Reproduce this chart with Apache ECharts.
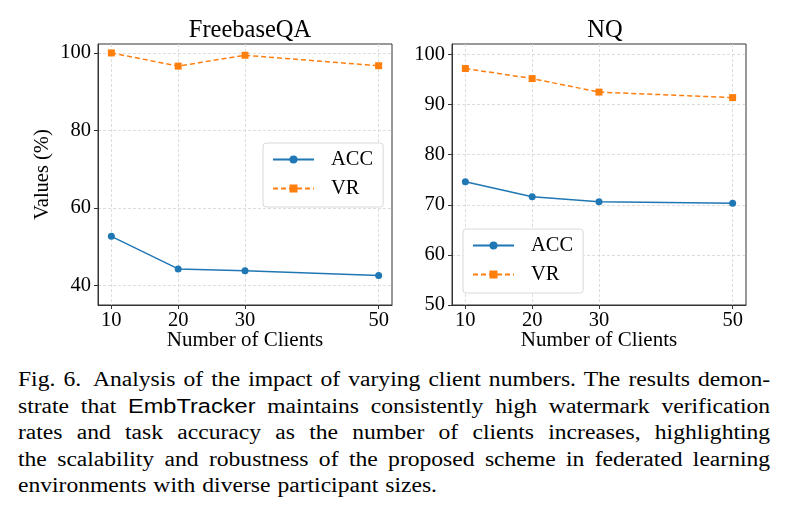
<!DOCTYPE html>
<html>
<head>
<meta charset="utf-8">
<script src="https://cdn.jsdelivr.net/npm/echarts@6/dist/echarts.min.js"></script>
<style>
  body { margin: 0; background: #fff; width: 785px; height: 514px; overflow: hidden; position: relative; }
  #chart { width: 785px; height: 360px; }
  #caption { position: absolute; left: 18px; top: 366px; width: 654px;
    transform: scaleX(1.15); transform-origin: 0 0;
    font-family: "Liberation Serif", serif; font-size: 20.5px; line-height: 26.5px; color: #000; }
  .ln { text-align: justify; text-align-last: justify; white-space: nowrap; }
  .last { text-align: left; word-spacing: 1px; }
  .sf { font-family: "Liberation Sans", sans-serif; }
</style>
</head>
<body>
<div id="chart"></div>
<div id="caption">
  <div class="ln">Fig. 6.&ensp;Analysis of the impact of varying client numbers. The results demon-</div>
  <div class="ln">strate that <span class="sf">EmbTracker</span> maintains consistently high watermark verification</div>
  <div class="ln">rates and task accuracy as the number of clients increases, highlighting</div>
  <div class="ln">the scalability and robustness of the proposed scheme in federated learning</div>
  <div class="last">environments with diverse participant sizes.</div>
</div>
<script>
// data
var clients = [10, 20, 30, 50];
var fbAcc = [52.7, 44.3, 43.8, 42.6];
var fbVr = [100, 96.6, 99.4, 96.7];
var nqAcc = [74.6, 71.6, 70.6, 70.3];
var nqVr = [97.2, 95.2, 92.5, 91.4];
var xTicks = [10, 20, 30, 50];
var fbTicks = [40, 60, 80, 100];
var nqTicks = [50, 60, 70, 80, 90, 100];

var FONT = 'Liberation Serif';
var BLUE = '#1f77b4', ORANGE = '#ff7f0e';

function pairs(vals) {
  return clients.map(function (c, i) { return [c, vals[i]]; });
}

function xAxis(idx) {
  return {
    type: 'value', gridIndex: idx, min: 8, max: 52,
    name: 'Number of Clients', nameLocation: 'middle', nameGap: 25, nameMoveOverlap: false,
    nameTextStyle: { fontFamily: FONT, fontSize: 21, color: '#000' },
    axisLine: { show: true, onZero: false, lineStyle: { color: '#333' } },
    axisTick: { show: true, length: 4, customValues: xTicks, lineStyle: { color: '#333' } },
    axisLabel: { customValues: xTicks, fontFamily: FONT, fontSize: 20.5, color: '#000', margin: 5 },
    splitLine: { show: true, lineStyle: { color: '#d4d4d4', type: [3, 2], width: 0.8 } }
  };
}

function yAxis(idx, min, max, ticks, name) {
  return {
    type: 'value', gridIndex: idx, min: min, max: max,
    name: name, nameLocation: 'middle', nameGap: 45, nameMoveOverlap: false,
    nameTextStyle: { fontFamily: FONT, fontSize: 20.5, color: '#000' },
    axisLine: { show: true, lineStyle: { color: '#333' } },
    axisTick: { show: true, length: 4, customValues: ticks, lineStyle: { color: '#333' } },
    axisLabel: { customValues: ticks, fontFamily: FONT, fontSize: 20.5, color: '#000', margin: 7 },
    splitLine: { show: true, lineStyle: { color: '#d4d4d4', type: [3, 2], width: 0.8 } }
  };
}

function accSeries(idx, vals) {
  return {
    name: 'ACC', type: 'line', xAxisIndex: idx, yAxisIndex: idx, data: pairs(vals),
    symbol: 'circle', symbolSize: 7, color: BLUE,
    lineStyle: { width: 1.5, color: BLUE }, itemStyle: { color: BLUE }, animation: false
  };
}

function vrSeries(idx, vals) {
  return {
    name: 'VR', type: 'line', xAxisIndex: idx, yAxisIndex: idx, data: pairs(vals),
    symbol: 'rect', symbolSize: 7, color: ORANGE,
    lineStyle: { width: 1.5, color: ORANGE, type: [5, 3] }, itemStyle: { color: ORANGE }, animation: false
  };
}

function legend(left, top) {
  return {
    data: ['ACC', 'VR'], orient: 'vertical', left: left, top: top,
    padding: [6, 10, 8, 9], itemGap: 8, itemWidth: 41, itemHeight: 10,
    backgroundColor: '#fff', borderColor: '#d8d8d8', borderWidth: 1, borderRadius: 3,
    textStyle: { fontFamily: FONT, fontSize: 20.5, color: '#000', padding: [0, 0, 0, 12] }
  };
}

var chart = echarts.init(document.getElementById('chart'));
chart.setOption({
  animation: false,
  title: [
    { text: 'FreebaseQA', left: 245, top: 13, textAlign: 'center',
      textStyle: { fontFamily: FONT, fontSize: 24.5, fontWeight: 'normal', color: '#000' } },
    { text: 'NQ', left: 600, top: 13, textAlign: 'center',
      textStyle: { fontFamily: FONT, fontSize: 24.5, fontWeight: 'normal', color: '#000' } }
  ],
  grid: [
    { left: 98, top: 44, width: 294, height: 261, show: true, borderColor: '#333', borderWidth: 1,
      containLabel: false, outerBoundsMode: 'none' },
    { left: 452, top: 44, width: 294, height: 261, show: true, borderColor: '#333', borderWidth: 1,
      containLabel: false, outerBoundsMode: 'none' }
  ],
  xAxis: [xAxis(0), xAxis(1)],
  yAxis: [
    yAxis(0, 35, 102.3, fbTicks, 'Values (%)'),
    yAxis(1, 50, 102.1, nqTicks, '')
  ],
  legend: [legend(263, 143), legend(463, 229)],
  series: [accSeries(0, fbAcc), vrSeries(0, fbVr), accSeries(1, nqAcc), vrSeries(1, nqVr)]
});
</script>
</body>
</html>
